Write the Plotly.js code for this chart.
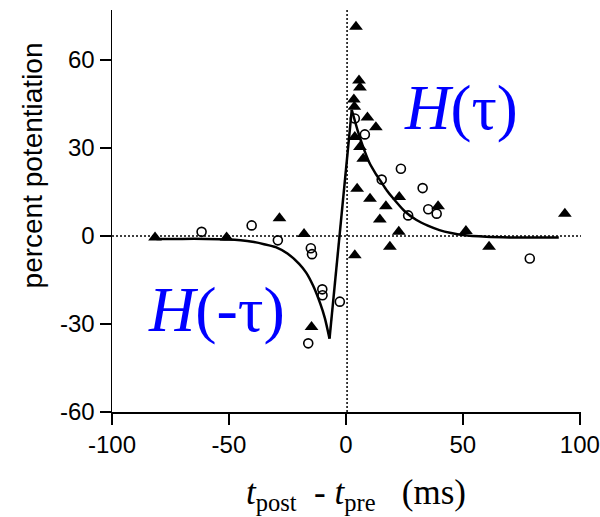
<!DOCTYPE html>
<html>
<head>
<meta charset="utf-8">
<script src="https://cdn.plot.ly/plotly-3.0.1.min.js"></script>
<style>html,body{margin:0;padding:0;background:#fff;}#chart{width:600px;height:517px;}</style>
</head>
<body>
<div id="chart"></div>
<script>
// Filled triangles (data set 1)
const triX = [-81.6, -51, -28.4, -17.9, -14.7, 3.8, 4.3, 5.6, 6, 3.4, 3.6, 9.2, 12.8, 3.8, 6, 7.4, 4.8, 10.3, 22.8, 17.1, 14.5, 22.6, 18.8, 39.4, 51.3, 61.2, 93.6];
const triY = [-0.5, -0.5, 6.0, 0.7, -31, -6.6, 71.3, 53, 50.6, 46.5, 44, 40.4, 37, 33.7, 30.3, 26.3, 16.1, 12.7, 13.3, 10.1, 5.6, 1.4, -3.7, 10.1, 1.7, -3.7, 7.6];
// Open circles (data set 2)
const cirX = [-61.7, -40.3, -29.1, -15, -14.5, -10.1, -10, -2.6, -16.1, 3.8, 8.1, 23.5, 15.3, 32.8, 26.6, 35.2, 38.8, 78.6];
const cirY = [1.4, 3.6, -1.5, -4.2, -6.2, -18.2, -20.2, -22.4, -36.6, 40, 34.6, 22.9, 19.2, 16.3, 7, 9.1, 7.6, -7.7];
// Fitted window curve
const negX = [-81, -70, -60, -50, -45, -40, -35, -30, -25, -20, -17, -14, -11, -9, -7];
const negY = [-1, -1, -1, -1.2, -1.5, -2, -2.8, -3.8, -6, -9.5, -12.5, -17, -23, -28, -35];
const riseX = [-7, 2.5];
const riseY = [-35, 43];
const posX = [2.5, 5, 7.5, 10, 12.5, 15, 17.5, 20, 25, 30, 35, 40, 45, 50, 60, 70, 80, 91];
const posY = [43, 36, 30, 25, 21.5, 18.5, 15.5, 13, 8.5, 5.5, 3.5, 2, 1, 0.3, -0.3, -0.5, -0.5, -0.5];
const xTicks = [-100, -50, 0, 50, 100];
const yTicks = [-60, -30, 0, 30, 60];

const curveLine = {color: '#000', width: 2.5};
const traces = [
  {x: negX, y: negY, mode: 'lines', line: Object.assign({shape: 'spline', smoothing: 0.6}, curveLine), hoverinfo: 'skip'},
  {x: riseX, y: riseY, mode: 'lines', line: curveLine, hoverinfo: 'skip'},
  {x: posX, y: posY, mode: 'lines', line: Object.assign({shape: 'spline', smoothing: 0.6}, curveLine), hoverinfo: 'skip'},
  {x: cirX, y: cirY, mode: 'markers', marker: {symbol: 'circle-open', size: 9, color: '#000', line: {width: 1.6, color: '#000'}}},
  {x: triX, y: triY, mode: 'markers', marker: {symbol: 'triangle-up', size: 12, color: '#000', line: {width: 0}}}
];

const layout = {
  width: 600, height: 517,
  margin: {l: 112, r: 19, t: 10, b: 105},
  paper_bgcolor: '#fff', plot_bgcolor: '#fff',
  showlegend: false,
  font: {family: 'Liberation Sans, Arial, sans-serif', color: '#000'},
  xaxis: {
    range: [-100, 100.5], tickvals: xTicks, ticktext: xTicks.map(String),
    showgrid: false, zeroline: false, showline: true, linecolor: '#000', linewidth: 1.5,
    ticks: 'outside', ticklen: 11, tickwidth: 1.5, tickcolor: '#000',
    tickfont: {size: 24, family: 'Liberation Sans, Arial, sans-serif'}
  },
  yaxis: {
    range: [-60, 77], tickvals: yTicks, ticktext: yTicks.map(String),
    showgrid: false, zeroline: false, showline: true, linecolor: '#000', linewidth: 1.5,
    ticks: 'outside', ticklen: 11, tickwidth: 1.5, tickcolor: '#000',
    tickfont: {size: 24, family: 'Liberation Sans, Arial, sans-serif'}
  },
  shapes: [
    {type: 'line', xref: 'x', yref: 'y', x0: -100, x1: 101, y0: 0, y1: 0, line: {color: '#000', width: 1.5, dash: '2px,2px'}, layer: 'below'},
    {type: 'line', xref: 'x', yref: 'paper', x0: 0.5, x1: 0.5, y0: 0, y1: 1, line: {color: '#000', width: 1.5, dash: '2px,2px'}, layer: 'below'}
  ],
  annotations: [
    {xref: 'x', yref: 'y', x: 49, y: 43.5, text: '<i>H</i>(τ)', showarrow: false, font: {size: 63, family: 'Liberation Serif, serif', color: '#0000ff'}},
    {xref: 'x', yref: 'y', x: -55.5, y: -25, text: '<i>H</i>(-τ)', showarrow: false, font: {size: 64, family: 'Liberation Serif, serif', color: '#0000ff'}},
    {xref: 'paper', yref: 'paper', x: 0.52, y: -0.205, xanchor: 'center', yanchor: 'middle', showarrow: false,
     text: '<i>t</i><sub>post</sub>  - <i>t</i><sub>pre</sub>   (ms)', font: {size: 35, family: 'Liberation Serif, serif', color: '#000'}},
    {xref: 'paper', yref: 'paper', x: -0.17, y: 0.614, xanchor: 'center', yanchor: 'middle', showarrow: false, textangle: -90,
     text: 'percent potentiation', font: {size: 28, family: 'Liberation Sans, Arial, sans-serif', color: '#000'}}
  ]
};

Plotly.newPlot('chart', traces, layout, {displayModeBar: false, staticPlot: true});
</script>
</body>
</html>
